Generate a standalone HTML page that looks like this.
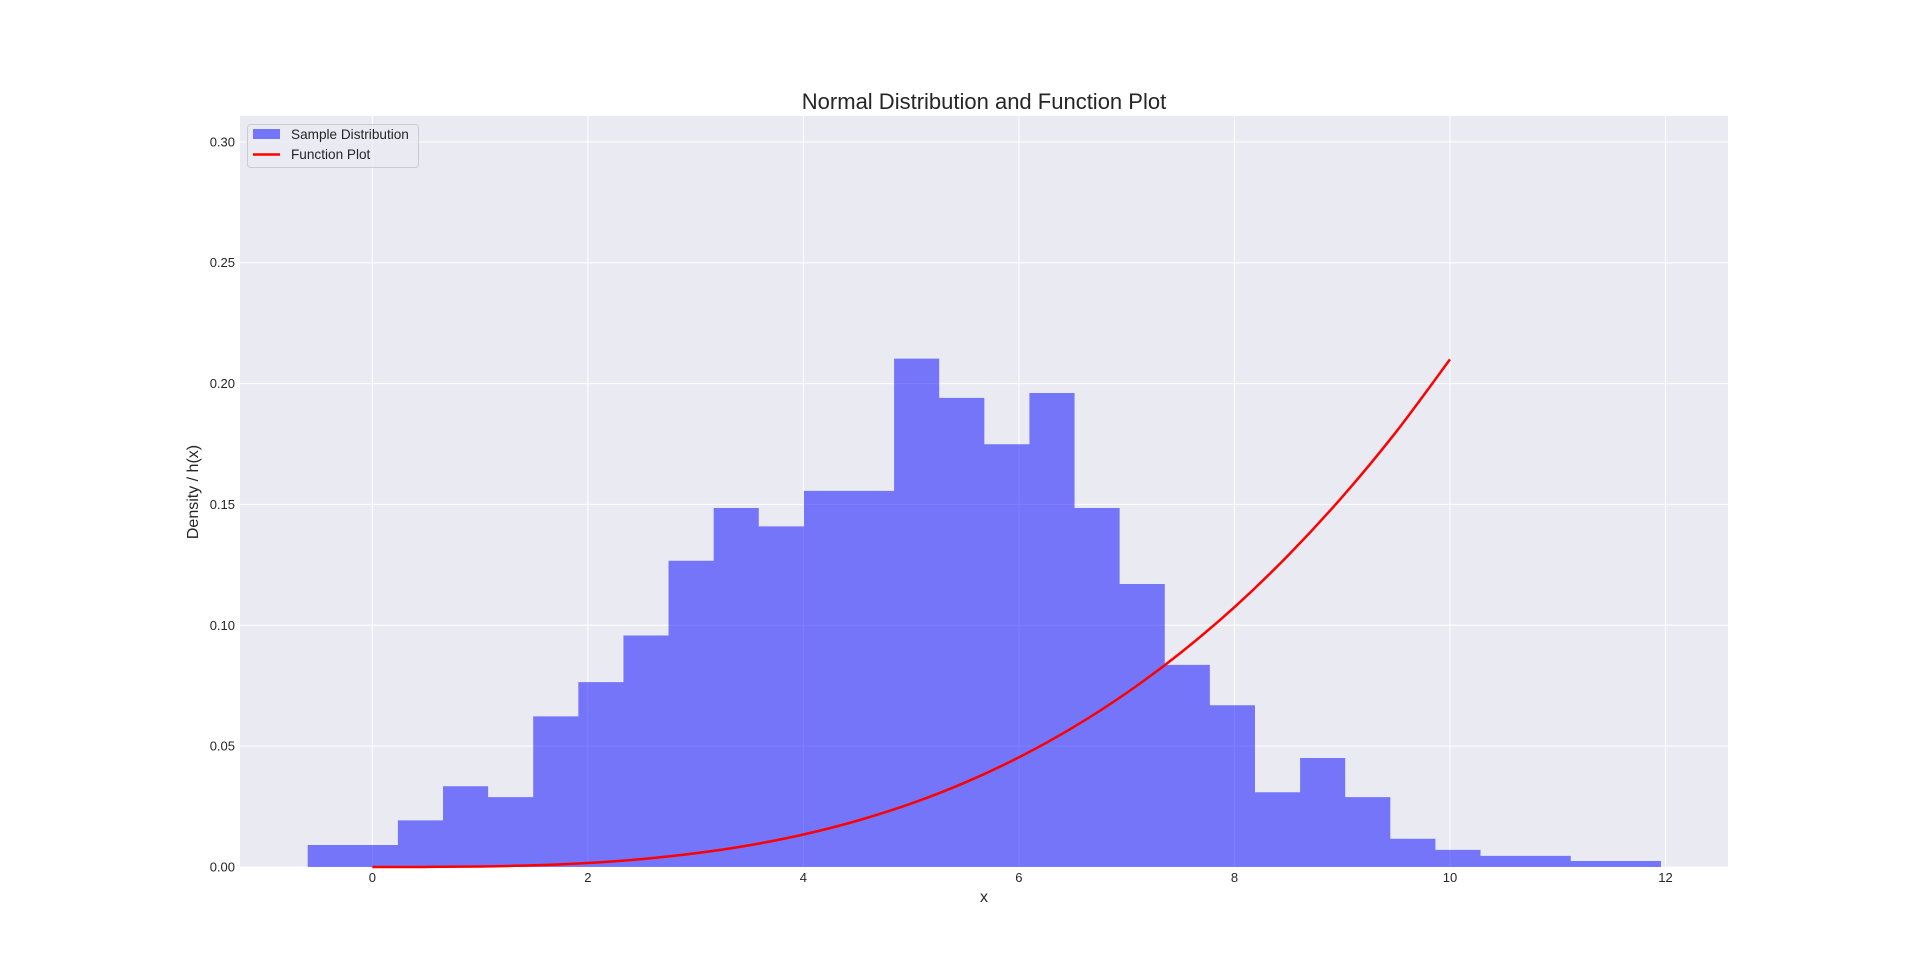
<!DOCTYPE html>
<html><head><meta charset="utf-8"><style>
html,body{margin:0;padding:0;background:#fff;}
svg{display:block;font-family:"Liberation Sans",Arial,sans-serif;}
</style></head><body>
<svg id="chart" width="1920" height="975" xmlns="http://www.w3.org/2000/svg">
<rect x="240" y="116" width="1488" height="751" fill="#EAEAF2"/>
<g id="grid"></g>
<g id="bars"></g>
<g id="line"></g>
<g id="ticks"></g>
<text x="984" y="109" text-anchor="middle" font-size="22" fill="#262626">Normal Distribution and Function Plot</text>
<text x="984" y="902" text-anchor="middle" font-size="16" fill="#262626">x</text>
<text x="0" y="0" transform="translate(198,492) rotate(-90)" text-anchor="middle" font-size="16" fill="#262626">Density / h(x)</text>
<g>
<rect x="247.5" y="124.5" width="171" height="43" rx="3" fill="#EAEAF2" fill-opacity="0.8" stroke="#cccccc"/>
<rect x="253" y="129" width="27" height="10" fill="#0000ff" fill-opacity="0.5"/>
<text x="291" y="139" font-size="13.6" fill="#262626">Sample Distribution</text>
<line x1="253" y1="154.5" x2="280" y2="154.5" stroke="#ff0000" stroke-width="2.5"/>
<text x="291" y="159" font-size="13.6" fill="#262626">Function Plot</text>
</g>
</svg>
<script>
const binStart = -0.6;
const binWidth = 0.4186;
const densities = [0.0091,0.0091,0.0193,0.0334,0.0289,0.0623,0.0765,0.0958,0.1267,0.1485,0.1409,0.1556,0.1556,0.2103,0.1941,0.1749,0.1961,0.1485,0.1171,0.0836,0.0669,0.0309,0.0451,0.0289,0.0117,0.0071,0.0046,0.0046,0.0025,0.0025];
const fnX = [0,0.5,1,1.5,2,2.5,3,3.5,4,4.5,5,5.5,6,6.5,7,7.5,8,8.5,9,9.5,10];
const fnY = [0,0.000026,0.00021,0.00071,0.00168,0.00328,0.00567,0.0090,0.01344,0.01914,0.02625,0.03494,0.04536,0.05767,0.07203,0.0886,0.1075,0.1290,0.1531,0.1800,0.2100];
const xTicks = [0,2,4,6,8,10,12];
const yTicks = [0,0.05,0.10,0.15,0.20,0.25,0.30];
const yTickLabels = ["0.00","0.05","0.10","0.15","0.20","0.25","0.30"];

const NS="http://www.w3.org/2000/svg";
const X0=240,X1=1728,Y0=867,Y1=116;
const xMin=-1.228,xMax=12.58,yMin=0,yMax=0.3107;
function sx(v){return X0+(v-xMin)/(xMax-xMin)*(X1-X0);}
function sy(v){return Y0-(v-yMin)/(yMax-yMin)*(Y0-Y1);}
function mk(tag,attrs,parent){const e=document.createElementNS(NS,tag);for(const k in attrs)e.setAttribute(k,attrs[k]);parent.appendChild(e);return e;}
const grid=document.getElementById('grid'),ticks=document.getElementById('ticks');
xTicks.forEach(t=>{
  const l=mk('line',{x1:sx(t),x2:sx(t),y1:Y1,y2:Y0,stroke:'#fff','stroke-width':1},grid);
  
  
  const tx=mk('text',{x:sx(t),y:882,'text-anchor':'middle','font-size':13,fill:'#262626'},ticks);
  tx.textContent=String(t);
  
  
});
yTicks.forEach((t,i)=>{
  const l=mk('line',{x1:X0,x2:X1,y1:sy(t),y2:sy(t),stroke:'#fff','stroke-width':1},grid);
  
  
  const tx=mk('text',{x:235,y:sy(t)+4.5,'text-anchor':'end','font-size':13,fill:'#262626'},ticks);
  tx.textContent=yTickLabels[i];
  
  
});
const bars=document.getElementById('bars');
let d='M'+sx(binStart).toFixed(2)+','+sy(0).toFixed(2);
densities.forEach((v,i)=>{
  const a=binStart+i*binWidth,b=a+binWidth;
  d+=' L'+sx(a).toFixed(2)+','+sy(v).toFixed(2)+' L'+sx(b).toFixed(2)+','+sy(v).toFixed(2);
});
d+=' L'+sx(binStart+densities.length*binWidth).toFixed(2)+','+sy(0).toFixed(2)+' Z';
const bp=mk('path',{d:d,fill:'#0000ff','fill-opacity':0.5},bars);



const P=fnX.map((x,i)=>[sx(x),sy(fnY[i])]);
let ld='M'+P[0][0].toFixed(2)+','+P[0][1].toFixed(2);
for(let i=0;i<P.length-1;i++){
  const p0=P[Math.max(i-1,0)],p1=P[i],p2=P[i+1],p3=P[Math.min(i+2,P.length-1)];
  const c1=[p1[0]+(p2[0]-p0[0])/6,p1[1]+(p2[1]-p0[1])/6];
  const c2=[p2[0]-(p3[0]-p1[0])/6,p2[1]-(p3[1]-p1[1])/6];
  ld+=' C'+c1[0].toFixed(2)+','+c1[1].toFixed(2)+' '+c2[0].toFixed(2)+','+c2[1].toFixed(2)+' '+p2[0].toFixed(2)+','+p2[1].toFixed(2);
}
const pl=mk('path',{d:ld,fill:'none',stroke:'#ff0000','stroke-width':2.5,'stroke-linejoin':'round'},document.getElementById('line'));


</script>
</body></html>
